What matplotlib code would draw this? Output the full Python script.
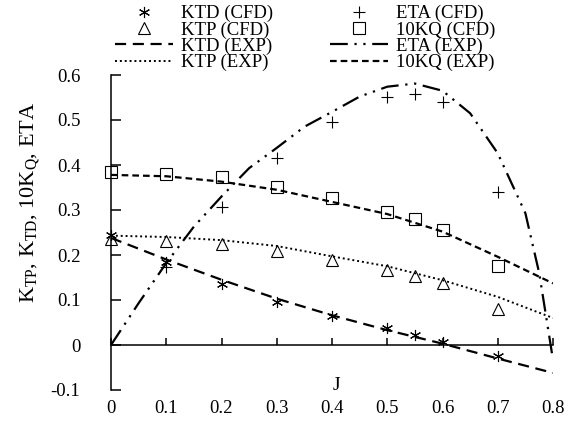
import numpy as np
import matplotlib
matplotlib.use("Agg")
import matplotlib.pyplot as plt

plt.rcParams['font.family'] = ['Liberation Serif', 'DejaVu Serif']
plt.rcParams['mathtext.default'] = 'regular'
plt.rcParams['font.size'] = 13.5

# CFD points
j_cfd = [0, 0.1, 0.2, 0.3, 0.4, 0.5, 0.55, 0.6, 0.7]
ktd_cfd = [0.244, 0.185, 0.135, 0.096, 0.064, 0.038, 0.022, 0.007, -0.024]
ktp_cfd = [0.235, 0.231, 0.224, 0.209, 0.189, 0.167, 0.153, 0.137, 0.080]
kq10_cfd = [0.385, 0.381, 0.374, 0.352, 0.327, 0.296, 0.279, 0.256, 0.176]
j_eta_cfd = [0.1, 0.2, 0.3, 0.4, 0.5, 0.55, 0.6, 0.7]
eta_cfd = [0.174, 0.307, 0.415, 0.496, 0.550, 0.557, 0.539, 0.339]

j_exp = [0, 0.1, 0.2, 0.3, 0.4, 0.5, 0.6, 0.7, 0.8]
ktd_exp = [0.238, 0.19, 0.145, 0.103, 0.066, 0.033, 0.003, -0.03, -0.062]
ktp_exp = [0.243, 0.240, 0.233, 0.220, 0.197, 0.175, 0.144, 0.107, 0.060]
kq10_exp = [0.378, 0.375, 0.363, 0.345, 0.318, 0.291, 0.252, 0.196, 0.137]
j_eta_exp = [0, 0.05, 0.1, 0.15, 0.2, 0.25, 0.3, 0.35, 0.4, 0.45, 0.5,
             0.55, 0.6, 0.65, 0.7, 0.75, 0.775, 0.8]
eta_exp = [0, 0.093, 0.182, 0.263, 0.33, 0.393, 0.438, 0.485, 0.518, 0.552,
           0.574, 0.581, 0.565, 0.515, 0.426, 0.293, 0.16, -0.033]

xticks = [0, 0.1, 0.2, 0.3, 0.4, 0.5, 0.6, 0.7, 0.8]
xlabels = ['0', '0.1', '0.2', '0.3', '0.4', '0.5', '0.6', '0.7', '0.8']
yticks = [-0.1, 0, 0.1, 0.2, 0.3, 0.4, 0.5, 0.6]
ylabels = ['-0.1', '0', '0.1', '0.2', '0.3', '0.4', '0.5', '0.6']

W, H = 587, 434
fig = plt.figure(figsize=(W / 100, H / 100), dpi=100)
ax = fig.add_axes([111 / W, 1 - 390 / H, 442 / W, 315 / H])

mk = dict(linestyle='none', color='black', markerfacecolor='none',
          markeredgecolor='black', markeredgewidth=0.8, clip_on=False)
h1, = ax.plot(j_cfd, ktd_cfd, marker=(6, 2, 0), markersize=8, label='KTD (CFD)', **mk)
h2, = ax.plot(j_cfd, ktp_cfd, marker='^', markersize=8, label='KTP (CFD)', **mk)
h5, = ax.plot(j_eta_cfd, eta_cfd, marker='+', markersize=8, label='ETA (CFD)', **mk)
h6, = ax.plot(j_cfd, kq10_cfd, marker='s', markersize=8, label='10KQ (CFD)', **mk)

h3, = ax.plot(j_exp, ktd_exp, color='black', lw=1.6, dashes=(5, 3), label='KTD (EXP)')
h4, = ax.plot(j_exp, ktp_exp, color='black', lw=1.4, dashes=(1, 1.5), label='KTP (EXP)')
h7, = ax.plot(j_eta_exp, eta_exp, color='black', lw=1.6,
              dashes=(8, 3, 1, 3, 1, 3), label='ETA (EXP)')
h8, = ax.plot(j_exp, kq10_exp, color='black', lw=1.6, dashes=(3, 1.8), label='10KQ (EXP)')

ax.set_xlim(0, 0.8)
ax.set_ylim(-0.1, 0.6)
for s in ['top', 'right', 'bottom']:
    ax.spines[s].set_visible(False)
ax.spines['left'].set_linewidth(1.1)

ax.set_xticks(xticks)
ax.set_xticklabels(xlabels)
ax.tick_params(axis='x', length=0, pad=7)
ax.set_yticks(yticks)
ax.set_yticklabels(ylabels)
ax.tick_params(axis='y', direction='in', length=7, width=1.1, pad=22)

# x axis line crossing at y = 0
sec = ax.secondary_xaxis(1 / 7)
sec.set_xticks(xticks)
sec.tick_params(direction='in', length=5, width=1.1, labelbottom=False)
sec.spines['bottom'].set_linewidth(1.1)

ax.set_xlabel('J', fontsize=14)
ax.xaxis.set_label_coords(0.511, 0.015)
ax.xaxis.label.set_va('center')
ax.set_ylabel('K$_{TP}$, K$_{TD}$, 10K$_{Q}$, ETA', fontsize=16)
ax.yaxis.set_label_coords(-0.183, 0.594)
ax.yaxis.label.set_va('center')

handles = [h1, h2, h3, h4, h5, h6, h7, h8]
fig.legend(handles=handles, loc='upper left', ncol=2, frameon=False,
           bbox_to_anchor=(115 / W, 1 - 5 / H), borderaxespad=0, borderpad=0,
           handlelength=3.1, handletextpad=0.43, columnspacing=3.0,
           labelspacing=-0.05)

fig.savefig('out.png', dpi=100)
